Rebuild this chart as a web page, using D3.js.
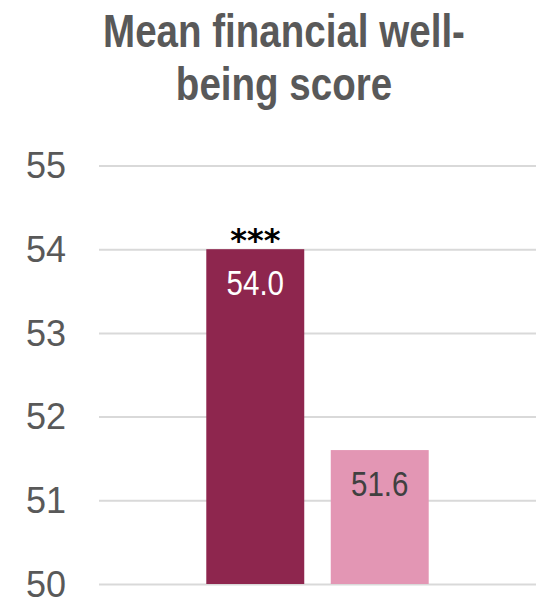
<!DOCTYPE html>
<html><head><meta charset="utf-8">
<script src="https://cdn.jsdelivr.net/npm/d3@7"></script>
<style>body{margin:0;background:#fff}</style>
</head><body>
<svg id="c" width="541" height="600"></svg>
<script>
const titleLines = ["Mean financial well-", "being score"];
const categories = ["Group A", "Group B"];
const values = [54.0, 51.6];
const valueLabels = ["54.0", "51.6"];
const significance = ["***", ""];
const yTicks = [50, 51, 52, 53, 54, 55];
const barColors = ["#8E264E", "#E396B4"];
const labelColors = ["#FFFFFF", "#404040"];

const svg = d3.select("#c");
const x = d3.scaleBand().domain(categories).range([99, 536]).paddingInner(0.213).paddingOuter(0.862);
const y = d3.scaleLinear().domain([50, 55]).range([584, 165.5]);
const narrow = 0.82;

svg.append("g").selectAll("text").data(titleLines).join("text")
  .attr("transform", (d, i) => `translate(284,${47 + i * 53}) scale(${narrow},1)`)
  .attr("text-anchor", "middle")
  .attr("font-family", "'Liberation Sans', Arial, sans-serif")
  .attr("font-weight", "bold").attr("font-size", 47).attr("fill", "#595959")
  .text(d => d);

const yAxis = svg.append("g").attr("transform", "translate(99,0)")
  .call(d3.axisLeft(y).tickValues(yTicks).tickSize(-437).tickPadding(33).tickFormat(d3.format("d")));
yAxis.select(".domain").remove();
yAxis.selectAll(".tick line").attr("stroke", "#D9D9D9").attr("stroke-width", 2);
yAxis.selectAll(".tick text").attr("font-family", "'Liberation Sans', Arial, sans-serif")
  .attr("font-size", 36).attr("fill", "#595959").attr("dy", "0.34em");

svg.append("g").selectAll("rect").data(values).join("rect")
  .attr("x", (d, i) => x(categories[i])).attr("width", x.bandwidth())
  .attr("y", d => y(d)).attr("height", d => y(50) - y(d))
  .attr("fill", (d, i) => barColors[i]);

svg.append("g").selectAll("text").data(values).join("text")
  .attr("transform", (d, i) => `translate(${x(categories[i]) + x.bandwidth() / 2},${y(d) + 46}) scale(${narrow},1)`)
  .attr("text-anchor", "middle")
  .attr("font-family", "'Liberation Sans', Arial, sans-serif")
  .attr("font-size", 36).attr("fill", (d, i) => labelColors[i])
  .text((d, i) => valueLabels[i]);

svg.append("g").selectAll("text").data(values).join("text")
  .attr("x", (d, i) => x(categories[i]) + x.bandwidth() / 2)
  .attr("y", d => y(d) + 2)
  .attr("text-anchor", "middle")
  .attr("font-family", "'DejaVu Sans', sans-serif")
  .attr("font-weight", "bold")
  .attr("font-size", 32).attr("fill", "#000")
  .text((d, i) => significance[i]);
</script>
</body></html>
